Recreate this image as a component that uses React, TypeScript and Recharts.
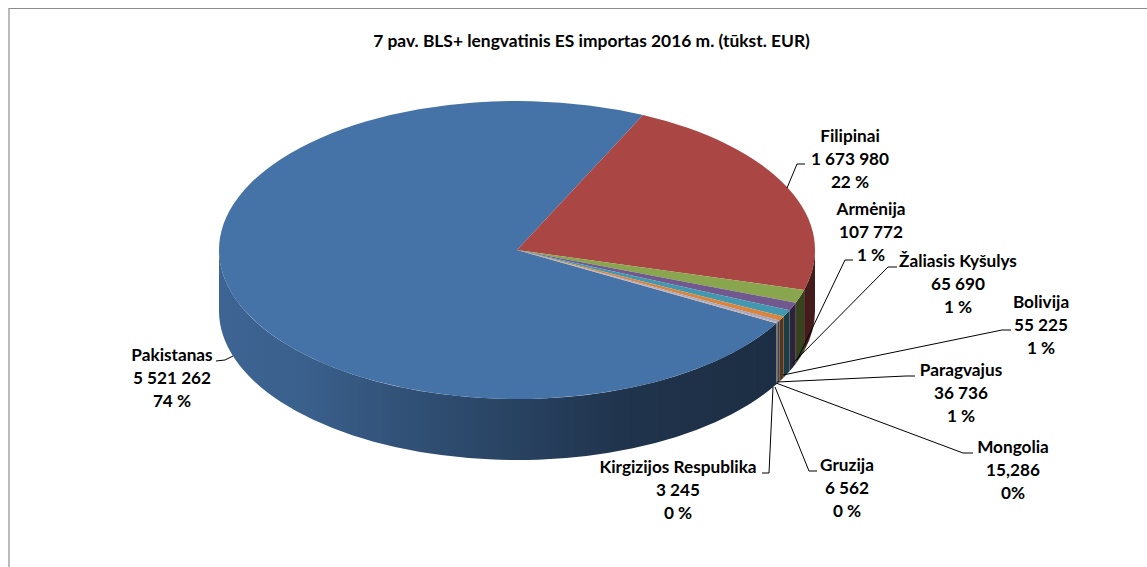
import { Pie, PieChart } from 'recharts'

const names = [
  'Pakistanas',
  'Filipinai',
  'Armėnija',
  'Žaliasis Kyšulys',
  'Bolivija',
  'Paragvajus',
  'Mongolia',
  'Gruzija',
  'Kirgizijos Respublika'
]
const values = [5521262, 1673980, 107772, 65690, 55225, 36736, 15286, 6562, 3245]
const valueLabels = ['5 521 262', '1 673 980', '107 772', '65 690', '55 225', '36 736', '15,286', '6 562', '3 245']
const percentLabels = ['74 %', '22 %', '1 %', '1 %', '1 %', '1 %', '0%', '0 %', '0 %']
const colors = ['#4572A7', '#AA4643', '#89A54E', '#71588F', '#4198AF', '#DB843D', '#93A9CF', '#D19392', '#B9CD96']

// where each label sits: text centre, first baseline, then the leader line points
const labelLayout = [
  { x: 172, y: 361, leader: '216,361 225,360 233,356' },
  { x: 850, y: 142, leader: '805,164 797,164 787,188' },
  { x: 871, y: 215, leader: '853,260 845,260 797,360' },
  { x: 958, y: 267, leader: '897,267 888,267 793,363' },
  { x: 1041, y: 308, leader: '1011,330 1002,330 783,375' },
  { x: 961, y: 376, leader: '915,376 906,376 777,382' },
  { x: 1013, y: 453, leader: '973,453 963,453 776,383' },
  { x: 847, y: 471, leader: '817,471 809,471 775,387' },
  { x: 678, y: 473, leader: '762,473 769,473 773,387' }
]

const data = names.map((name, i) => ({ name, value: values[i], fill: colors[i] }))

const TILT = 0.5
const DEPTH = 61
const FONT = 'Lato, sans-serif'
const FONT_SIZE = 17.2

// wall darkness from left to right, as offset and multiplier
const wallShade = [
  [0, 0.88],
  [0.14, 0.84],
  [0.3, 0.72],
  [0.44, 0.62],
  [0.67, 0.46],
  [0.93, 0.4],
  [1, 0.4]
]

const shade = (hex: string, k: number): string => {
  const n = parseInt(hex.slice(1), 16)
  const r = Math.round(((n >> 16) & 255) * k)
  const g = Math.round(((n >> 8) & 255) * k)
  const b = Math.round((n & 255) * k)
  return `rgb(${r},${g},${b})`
}

// Pie sector squashed to an ellipse, with the front wall under it
const Sector3D = (props: any) => {
  const { cx, cy, outerRadius: r, startAngle, endAngle, fill, index } = props
  const ry = r * TILT
  const px = (a: number) => cx + r * Math.cos((a * Math.PI) / 180)
  const py = (a: number) => cy - ry * Math.sin((a * Math.PI) / 180)
  const large = startAngle - endAngle > 180 ? 1 : 0
  const top = `M${cx},${cy}L${px(startAngle)},${py(startAngle)}A${r},${ry} 0 ${large} 1 ${px(endAngle)},${py(endAngle)}Z`

  const walls: string[] = []
  const fronts = [
    [0, -180],
    [360, 180]
  ]
  fronts.forEach(([hi, lo]) => {
    const a1 = Math.min(startAngle, hi)
    const a2 = Math.max(endAngle, lo)
    if (a1 > a2) {
      walls.push(
        `M${px(a1)},${py(a1)}A${r},${ry} 0 0 1 ${px(a2)},${py(a2)}L${px(a2)},${py(a2) + DEPTH}A${r},${ry} 0 0 0 ${px(a1)},${py(a1) + DEPTH}Z`
      )
    }
  })

  const gradId = `wall-${index}`
  return (
    <g>
      <defs>
        <linearGradient id={gradId} gradientUnits="userSpaceOnUse" x1={cx - r} x2={cx + r} y1={0} y2={0}>
          {wallShade.map(([offset, k]) => (
            <stop key={offset} offset={offset} stopColor={shade(fill, k)} />
          ))}
        </linearGradient>
      </defs>
      {walls.map((d) => (
        <path key={d} d={d} fill={`url(#${gradId})`} />
      ))}
      <path d={top} fill={fill} />
    </g>
  )
}

const renderLabel = (props: any) => {
  const { index } = props
  const { x, y, leader } = labelLayout[index]
  const lines = [names[index], valueLabels[index], percentLabels[index]]
  return (
    <g key={names[index]}>
      <polyline points={leader} fill="none" stroke="#000" strokeWidth={1} />
      {lines.map((line, i) => (
        <text
          key={i}
          x={x}
          y={y + i * 23}
          textAnchor="middle"
          fontFamily={FONT}
          fontWeight={700}
          fontSize={FONT_SIZE}
          fill="#000"
        >
          {line}
        </text>
      ))}
    </g>
  )
}

export default function App(): JSX.Element {
  return (
    <div style={{ position: 'absolute', left: 0, top: 0, width: 1147, height: 567, background: '#fff' }}>
      <div
        style={{
          position: 'absolute',
          left: 8,
          top: 8,
          right: 0,
          bottom: 0,
          borderTop: '1px solid #8c8c8c',
          borderLeft: '2px solid #bababa'
        }}
      />
      <div style={{ position: 'absolute', left: 0, top: 0 }}>
        <PieChart width={1147} height={567} margin={{ top: 0, right: 0, bottom: 0, left: 0 }}>
          <text x={591.5} y={47} textAnchor="middle" fontFamily={FONT} fontWeight={700} fontSize={17.4} fill="#000">
            7 pav. BLS+ lengvatinis ES importas 2016 m. (tūkst. EUR)
          </text>
          <Pie
            data={data}
            dataKey="value"
            nameKey="name"
            cx={517}
            cy={250}
            innerRadius={0}
            outerRadius={298}
            startAngle={330.5}
            endAngle={-29.5}
            stroke="none"
            shape={Sector3D}
            label={renderLabel}
            labelLine={false}
            isAnimationActive={false}
          />
        </PieChart>
      </div>
    </div>
  )
}
